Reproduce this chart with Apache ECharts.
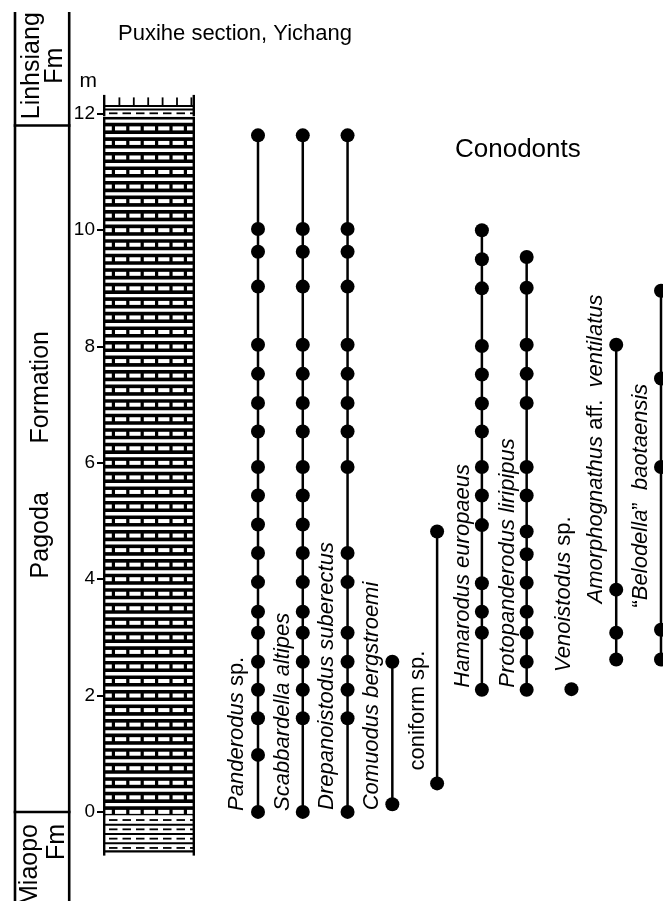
<!DOCTYPE html>
<html>
<head>
<meta charset="utf-8">
<script src="https://cdn.jsdelivr.net/npm/echarts@6/dist/echarts.min.js"></script>
<style>html,body{margin:0;padding:0;background:#fff}#chart{width:663px;height:901px}</style>
</head>
<body>
<div id="chart"></div>
<script>
const FONT = "'Liberation Sans', Arial, Helvetica, sans-serif";

// ---- depth axis (metres) ----
const yTicks = [0, 2, 4, 6, 8, 10, 12];
const depthMin = -0.7, depthMax = 12.3;

// ---- formations (left column) ----
const formationNames = ['Miaopo\nFm', 'Pagoda       Formation', 'Linhsiang\nFm'];
const formationBase = [-1.53, 0, 11.8];
const formationTop = [0, 11.8, 13.75];

// ---- lithology column ----
const lithBase = [-0.7, -0.06, 11.95];
const lithTop = [-0.06, 11.95, 12.3];
const lithType = ['shale', 'limestone', 'marl'];

// ---- conodont taxa and sample levels (m) ----
const species = [
  'Panderodus sp.', 'Scabbardella altipes', 'Drepanoistodus suberectus',
  'Comuodus bergstroemi', 'coniform sp.', 'Hamarodus europaeus',
  'Protopanderodus liripipus', 'Venoistodus sp.',
  'Amorphognathus aff.  ventilatus', '“Belodella”  baotaensis'
];
const panderodus = [0, 0.98, 1.61, 2.10, 2.58, 3.08, 3.44, 3.95, 4.45, 4.94, 5.44, 5.93, 6.54, 7.03, 7.53, 8.03, 9.03, 9.63, 10.02, 11.63];
const scabbardella = [0, 1.61, 2.10, 2.58, 3.08, 3.44, 3.95, 4.45, 4.94, 5.44, 5.93, 6.54, 7.03, 7.53, 8.03, 9.03, 9.63, 10.02, 11.63];
const drepanoistodus = [0, 1.61, 2.10, 2.58, 3.08, 3.95, 4.45, 5.93, 6.54, 7.03, 7.53, 8.03, 9.03, 9.63, 10.02, 11.63];
const comuodus = [0.13, 2.58];
const coniform = [0.49, 4.82];
const hamarodus = [2.10, 3.08, 3.44, 3.93, 4.93, 5.44, 5.93, 6.54, 7.02, 7.52, 8.01, 9.00, 9.50, 10.00];
const protopanderodus = [2.10, 2.58, 3.08, 3.44, 3.94, 4.43, 4.82, 5.44, 5.93, 7.03, 7.53, 8.03, 9.01, 9.54];
const venoistodus = [2.11];
const amorphognathus = [2.62, 3.08, 3.82, 8.03];
const belodella = [2.62, 3.13, 5.93, 7.45, 8.96];
const occurrences = [panderodus, scabbardella, drepanoistodus, comuodus, coniform,
  hamarodus, protopanderodus, venoistodus, amorphognathus, belodella];

// ---- label layout (pixel offsets from the lowest occurrence) ----
const labelOffsets = [[-10, -1], [-9, -1], [-10, -2], [-9, 6], [-8, -13],
  [-8, -2], [-8, -2], [3, -17], [-9, -56], [-9, -52]];
const formationLabelLayout = [
  {anchor: 'top', dy: 12, dx: 2, align: 'right', lh: 27},
  {anchor: 'mid', dy: -14, dx: -0.5, align: 'center', lh: 25},
  {anchor: 'mid', dy: -3, dx: 1.5, align: 'center', lh: 23}
];

function richName(name) {
  if (name.startsWith('coniform')) return '{n|' + name + '}';
  let out = '';
  const parts = name.split(/(\s+)/);
  parts.forEach(p => {
    if (/^\s+$/.test(p)) { out += '{n|' + p + '}'; return; }
    if (p === 'sp.' || p === 'aff.') { out += '{n|' + p + '}'; return; }
    const m = p.match(/^(“?)(.*?)(”?)$/);
    if (m[1]) out += '{n|' + m[1] + '}';
    if (m[2]) out += '{i|' + m[2] + '}';
    if (m[3]) out += '{n|' + m[3] + '}';
  });
  return out;
}

const BLACK = '#000', WHITE = '#fff';

function formationRender(params, api) {
  const i = api.value(2);
  const b = api.value(0), t = api.value(1);
  const cs = params.coordSys;
  const xL = cs.x, xR = cs.x + cs.width;
  const yT = api.coord([0, t])[1], yB = api.coord([0, b])[1];
  const lw = 2.6;
  const ch = [
    {type: 'rect', shape: {x: xL - lw / 2, y: yT, width: lw, height: yB - yT}, style: {fill: BLACK}},
    {type: 'rect', shape: {x: xR - lw / 2, y: yT, width: lw, height: yB - yT}, style: {fill: BLACK}}
  ];
  if (i > 0) ch.push({type: 'rect', shape: {x: xL - lw / 2, y: yB - lw / 2, width: xR - xL + lw, height: lw}, style: {fill: BLACK}});
  const lab = formationLabelLayout[i];
  const ya = api.coord([0, lab.anchor === 'top' ? t : (b + t) / 2])[1] + lab.dy;
  ch.push({type: 'text', x: (xL + xR) / 2 + lab.dx, y: ya, rotation: Math.PI / 2,
    style: {text: formationNames[i], align: lab.align, verticalAlign: 'middle', fontSize: 25,
      fontFamily: FONT, fill: BLACK, lineHeight: lab.lh}});
  return {type: 'group', children: ch};
}

function lithRender(params, api) {
  const idx = api.value(2);
  const type = lithType[idx];
  const b = api.value(0), t = api.value(1);
  const cs = params.coordSys;
  const xL = cs.x, xR = cs.x + cs.width, w = cs.width;
  const yT = api.coord([0, t])[1], yB = api.coord([0, b])[1];
  const ch = [];
  const R = (x, y, ww, hh, c) => ch.push({type: 'rect', shape: {x: x, y: y, width: ww, height: hh}, style: {fill: c}});
  const rowPieces = (y, hh, period, len, start, color) => {
    for (let bx = xL + start - period; bx < xR; bx += period) {
      const x0 = Math.max(bx, xL + 1.5), x1 = Math.min(bx + len, xR - 1.5);
      if (x1 > x0) R(x0, y, x1 - x0, hh, color);
    }
  };
  if (type === 'limestone') {
    R(xL, yT, w, yB - yT, BLACK);
    const step = 0.25;
    for (let k = Math.ceil(b / step); k * step <= t + 1e-6; k++) {
      const v = k * step;
      const c = api.coord([0, v])[1];
      if (c - 2 > yT && c + 2 < yB) rowPieces(c - 2, 4, 14.4, 11.2, 12, WHITE);
      const m = api.coord([0, v + step / 2])[1];
      if (m - 1.7 > yT + 0.5 && m + 1.7 < yB) R(xL + 1.5, m - 1.7, w - 3, 3.4, WHITE);
    }
  } else if (type === 'shale') {
    R(xL, yT, w, yB - yT, WHITE);
    const n = 4, p = (yB - yT) / n;
    for (let k = 0; k < n; k++) {
      const y = yT + k * p;
      if (k > 0) R(xL, y - 1, w, 2, BLACK);
      rowPieces(y + p / 2 - 0.9, 1.8, 13.5, 8.5, 6, BLACK);
    }
    R(xL, yB - 2.4, w, 2.4, BLACK);
    R(xL, yT, 2.4, yB - yT + 3, BLACK);
    R(xR - 2.4, yT, 2.4, yB - yT + 3, BLACK);
  } else if (type === 'marl') {
    R(xL, yT, w, yB - yT, WHITE);
    for (let bx = xL + 15.5; bx < xR - 3; bx += 14.4) R(bx, yT + 1, 1.8, 8, BLACK);
    R(xL, yT + 8.5, w, 2.2, BLACK);
    R(xL, yT + 12.2, w, 1.8, BLACK);
    rowPieces(yT + 16, 1.8, 13.5, 8.5, 6, BLACK);
  }
  if (type !== 'shale') {
    R(xL, yT - (type === 'marl' ? 1.5 : 0), 2.4, yB - yT + 1, BLACK);
    R(xR - 2.4, yT - (type === 'marl' ? 1.5 : 0), 2.4, yB - yT + 1, BLACK);
  }
  return {type: 'group', children: ch};
}

function speciesLabelRender(params, api) {
  const i = api.value(0);
  const p = api.coord([i, api.value(1)]);
  const off = labelOffsets[i];
  return {
    type: 'text', x: p[0] + off[0], y: p[1] + off[1], rotation: Math.PI / 2,
    style: {
      text: richName(species[i]),
      align: 'left', verticalAlign: 'bottom', fontSize: 22, fontFamily: FONT, fill: BLACK,
      rich: {
        i: {fontStyle: 'italic', fontSize: 22, fontFamily: FONT, fill: BLACK},
        n: {fontStyle: 'normal', fontSize: 22, fontFamily: FONT, fill: BLACK}
      }
    }
  };
}

const gridTop = 96.4, gridBottom = 48.4;

const option = {
  animation: false,
  backgroundColor: '#fff',
  textStyle: {fontFamily: FONT, color: BLACK},
  title: [
    {text: 'Puxihe section, Yichang', left: 118, top: 23, padding: 0,
      textStyle: {fontSize: 22, fontWeight: 'normal', fontFamily: FONT, color: BLACK}},
    {text: 'Conodonts', left: 455, top: 137, padding: 0,
      textStyle: {fontSize: 26, fontWeight: 'normal', fontFamily: FONT, color: BLACK}}
  ],
  grid: [
    {left: 15, width: 54.2, top: 12, bottom: 0},
    {left: 103, width: 92, top: gridTop, bottom: gridBottom},
    {left: 258, right: 2, top: gridTop, bottom: gridBottom}
  ],
  xAxis: [
    {type: 'value', gridIndex: 0, min: 0, max: 1, show: false},
    {type: 'value', gridIndex: 1, min: 0, max: 1, show: false},
    {type: 'category', gridIndex: 2, data: species, boundaryGap: false, show: false}
  ],
  yAxis: [
    {type: 'value', gridIndex: 0, min: -1.53, max: 13.75, show: false},
    {type: 'value', gridIndex: 1, min: depthMin, max: depthMax,
      name: 'm', nameLocation: 'end', nameGap: 5,
      nameTextStyle: {fontSize: 21, color: BLACK, align: 'right', verticalAlign: 'bottom', padding: [0, 6, 0, 0]},
      axisLine: {show: false},
      axisTick: {show: true, length: 6, customValues: yTicks, lineStyle: {color: BLACK, width: 2}},
      axisLabel: {show: true, customValues: yTicks, fontSize: 19, color: BLACK, margin: 8},
      splitLine: {show: false}},
    {type: 'value', gridIndex: 2, min: depthMin, max: depthMax, show: false}
  ],
  series: [
    {type: 'custom', xAxisIndex: 0, yAxisIndex: 0, silent: true,
      data: formationNames.map((n, i) => [formationBase[i], formationTop[i], i]),
      encode: {x: -1, y: [0, 1]},
      renderItem: formationRender},
    {type: 'custom', xAxisIndex: 1, yAxisIndex: 1, silent: true,
      data: lithType.map((tp, i) => [lithBase[i], lithTop[i], i]),
      encode: {x: -1, y: [0, 1]},
      renderItem: lithRender},
    ...occurrences.map((vals, i) => ({
      type: 'line', xAxisIndex: 2, yAxisIndex: 2, silent: true, clip: false,
      data: vals.map(v => [species[i], v]),
      symbol: 'circle', symbolSize: 14, showSymbol: true,
      lineStyle: {color: BLACK, width: 2.5},
      itemStyle: {color: BLACK, borderWidth: 0},
      emphasis: {disabled: true}, z: 3
    })),
    {type: 'custom', xAxisIndex: 2, yAxisIndex: 2, silent: true, clip: false,
      data: occurrences.map((vals, i) => [i, Math.min.apply(null, vals)]),
      renderItem: speciesLabelRender, z: 4}
  ]
};

const chart = echarts.init(document.getElementById('chart'), null, {renderer: 'canvas'});
chart.setOption(option);
</script>
</body>
</html>
